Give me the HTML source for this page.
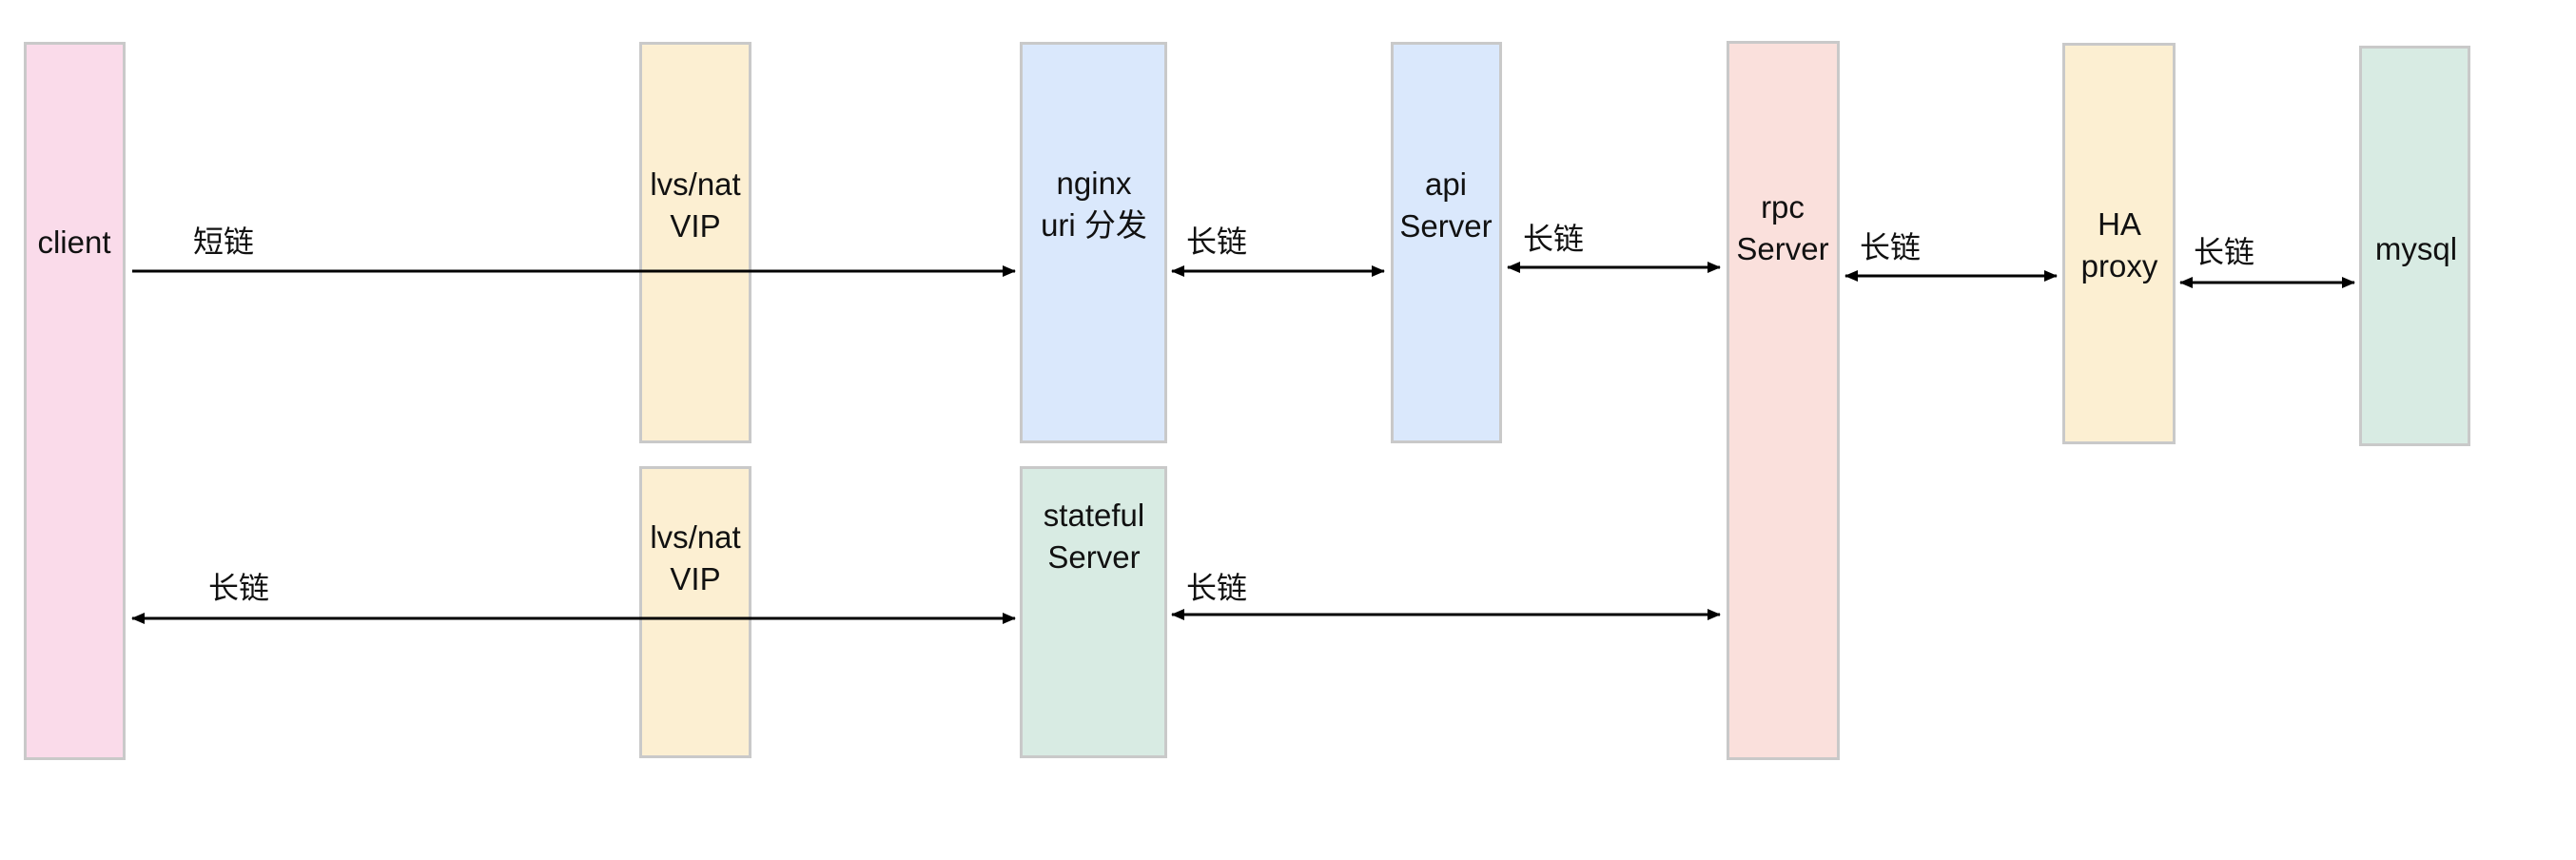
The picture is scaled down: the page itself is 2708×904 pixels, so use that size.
<!DOCTYPE html>
<html><head><meta charset="utf-8"><style>
body{margin:0;width:2708px;height:904px;background:#fff;position:relative;overflow:hidden;font-family:"Liberation Sans","Noto Sans CJK SC",sans-serif;}
.b{position:absolute;box-sizing:border-box;border:3px solid #c9c9c9;}
.t{position:absolute;font-size:33px;color:#111;text-align:center;line-height:44px;white-space:nowrap;transform:translate(-50%,-50%);}
.l{position:absolute;font-size:32px;color:#111;white-space:nowrap;line-height:40px;}
</style></head><body>
<div class="b" style="left:25px;top:44px;width:107px;height:755px;background:#fadbea"></div>
<div class="b" style="left:672px;top:44px;width:118px;height:422px;background:#fcefd2"></div>
<div class="b" style="left:672px;top:490px;width:118px;height:307px;background:#fcefd2"></div>
<div class="b" style="left:1072px;top:44px;width:155px;height:422px;background:#dae8fc"></div>
<div class="b" style="left:1072px;top:490px;width:155px;height:307px;background:#d8ebe3"></div>
<div class="b" style="left:1462px;top:44px;width:117px;height:422px;background:#dae8fc"></div>
<div class="b" style="left:1815px;top:43px;width:119px;height:756px;background:#fae0dc"></div>
<div class="b" style="left:2168px;top:45px;width:119px;height:422px;background:#fcefd2"></div>
<div class="b" style="left:2480px;top:48px;width:117px;height:421px;background:#d8ebe3"></div>

<div class="t" style="left:78px;top:255px">client</div>
<div class="t" style="left:731px;top:216px">lvs/nat<br>VIP</div>
<div class="t" style="left:731px;top:587px">lvs/nat<br>VIP</div>
<div class="t" style="left:1150px;top:215px">nginx<br>uri 分发</div>
<div class="t" style="left:1150px;top:564px">stateful<br>Server</div>
<div class="t" style="left:1520px;top:216px">api<br>Server</div>
<div class="t" style="left:1874px;top:240px">rpc<br>Server</div>
<div class="t" style="left:2228px;top:258px">HA<br>proxy</div>
<div class="t" style="left:2540px;top:262px">mysql</div>

<div class="l" style="left:203px;top:234px">短链</div>
<div class="l" style="left:219px;top:598px">长链</div>
<div class="l" style="left:1247px;top:234px">长链</div>
<div class="l" style="left:1247px;top:598px">长链</div>
<div class="l" style="left:1601px;top:231px">长链</div>
<div class="l" style="left:1955px;top:240px">长链</div>
<div class="l" style="left:2306px;top:245px">长链</div>

<svg style="position:absolute;left:0;top:0" width="2708" height="904">
<defs>
<marker id="a" markerWidth="14" markerHeight="14" refX="13" refY="7" orient="auto-start-reverse" markerUnits="userSpaceOnUse"><path d="M0,1 L14,7 L0,13 Z" fill="#000"/></marker>
</defs>
<g stroke="#000" stroke-width="3" fill="none">
<line x1="139" y1="285" x2="1067" y2="285" marker-end="url(#a)"/>
<line x1="139" y1="650" x2="1067" y2="650" marker-start="url(#a)" marker-end="url(#a)"/>
<line x1="1232" y1="285" x2="1455" y2="285" marker-start="url(#a)" marker-end="url(#a)"/>
<line x1="1232" y1="646" x2="1808" y2="646" marker-start="url(#a)" marker-end="url(#a)"/>
<line x1="1585" y1="281" x2="1808" y2="281" marker-start="url(#a)" marker-end="url(#a)"/>
<line x1="1940" y1="290" x2="2162" y2="290" marker-start="url(#a)" marker-end="url(#a)"/>
<line x1="2292" y1="297" x2="2475" y2="297" marker-start="url(#a)" marker-end="url(#a)"/>
</g>
</svg>
</body></html>
